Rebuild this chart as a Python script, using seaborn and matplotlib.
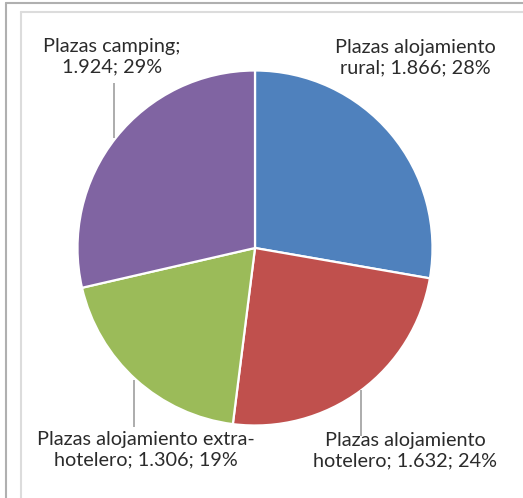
import matplotlib
matplotlib.use("Agg")
import matplotlib.pyplot as plt
import seaborn as sns
from matplotlib.lines import Line2D

# Plazas de alojamiento por tipo
categories = ["Plazas alojamiento rural", "Plazas alojamiento hotelero",
              "Plazas alojamiento extra-hotelero", "Plazas camping"]
values = [1866, 1632, 1306, 1924]
value_labels = ["1.866", "1.632", "1.306", "1.924"]
label_text = [
    "Plazas alojamiento\nrural; {v}; {p}",
    "Plazas alojamiento\nhotelero; {v}; {p}",
    "Plazas alojamiento extra-\nhotelero; {v}; {p}",
    "Plazas camping;\n{v}; {p}",
]

sns.set_theme(style="white")
plt.rcParams["font.family"] = ["Lato", "DejaVu Sans"]

colors = ["#4F81BD", "#C0504D", "#9BBB59", "#8064A2"]

W, H = 523, 498
fig = plt.figure(figsize=(W / 100, H / 100), dpi=100)
fig.patch.set_facecolor("white")
ax = fig.add_axes([0, 0, 1, 1])

cx, cy, R = 255, H - 248, 177.5
ax.pie(values, colors=colors, startangle=90, counterclock=False,
       center=(cx, cy), radius=R, frame=True,
       wedgeprops=dict(edgecolor="white", linewidth=1.6))
ax.set_xlim(0, W)
ax.set_ylim(0, H)
ax.set_aspect("equal")
ax.axis("off")

total = sum(values)
pcts = [f"{round(100 * v / total)}%" for v in values]

# label anchor points (pixel coordinates from top-left)
label_pos = [(415, 58), (405, 451), (146, 450), (112, 57)]
txt_color = "#2b2b2b"
for tmpl, vl, p, (x, y) in zip(label_text, value_labels, pcts, label_pos):
    ax.text(x, H - y, tmpl.format(v=vl, p=p), ha="center", va="center",
            fontsize=14.3, color=txt_color, linespacing=1.25)

# leader lines
leaders = [((114, 83), (114, 138)), ((134, 380), (134, 427)), ((361, 390), (361, 436))]
for (x0, y0), (x1, y1) in leaders:
    ax.plot([x0, x1], [H - y0, H - y1], color="#a6a6a6", lw=1.3,
            solid_capstyle="butt", zorder=1)

# frame lines
def fline(xs, ys, color, lw):
    fig.add_artist(Line2D([x / W for x in xs], [1 - y / H for y in ys],
                          transform=fig.transFigure, color=color, lw=lw))

fline([5.5, W], [3.5, 3.5], "#b0b0b0", 1.5)
fline([5.5, 5.5], [3.5, H], "#b0b0b0", 1.5)
fline([21, W], [12, 12], "#dcdcdc", 1.5)
fline([21, 21], [12, H], "#dcdcdc", 1.5)

fig.savefig("out.png", dpi=100, facecolor="white")
